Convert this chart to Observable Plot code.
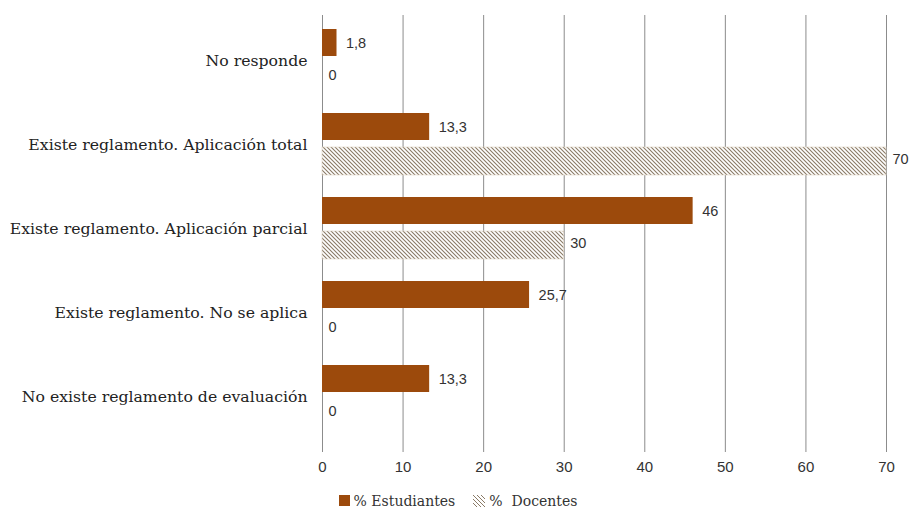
<!DOCTYPE html>
<html><head><meta charset="utf-8">
<script src="https://cdn.jsdelivr.net/npm/d3@7"></script>
<script src="https://cdn.jsdelivr.net/npm/@observablehq/plot@0.6"></script>
<style>
body{margin:0;background:#fff;}
#legend{width:910px;height:31px;display:flex;justify-content:center;align-items:center;font-family:"DejaVu Serif",serif;font-size:14px;color:#333;padding-left:6px;box-sizing:border-box;}
#legend .item{display:flex;align-items:center;margin:0 6px;font-family:"DejaVu Serif",serif;}
#legend svg{margin-right:4px;}
</style></head><body><div id="chart"></div><div id="legend"></div>
<script>
const categories = ["No responde","Existe reglamento. Aplicación total","Existe reglamento. Aplicación parcial","Existe reglamento. No se aplica","No existe reglamento de evaluación"];
const estudiantes = [1.8,13.3,46,25.7,13.3];
const docentes = [0,70,30,0,0];
const xTicks = [0,10,20,30,40,50,60,70];
const seriesNames = ["% Estudiantes","%  Docentes"];

const est = categories.map((c,i)=>({category:c, series:seriesNames[0], value:estudiantes[i]}));
const doc = categories.map((c,i)=>({category:c, series:seriesNames[1], value:docentes[i]}));
const fmt = v => String(v).replace(".", ",");
const brown = "#9c4a0c";
const serif = "'DejaVu Serif', serif";
const sans = "'Liberation Sans', sans-serif";

const chart = Plot.plot({
  width:910, height:485,
  marginLeft:322, marginRight:24, marginTop:15, marginBottom:33,
  style:{fontFamily:sans, fontSize:"15px", color:"#333", background:"#fff"},
  x:{domain:[0,70], ticks:xTicks, tickSize:0, tickPadding:9, label:null, tickFormat:d=>String(d)},
  y:{domain:categories, paddingInner:0.257, paddingOuter:0.206, align:0.37, label:null, axis:null},
  marks:[
    Plot.ruleX(xTicks,{stroke:"#8c8c8c", strokeWidth:1}),
    Plot.axisY({tickSize:0, tickPadding:15, fontFamily:serif, fontSize:15.7, fill:"#222", label:null}),
    Plot.barX(est,{x:"value", y:"category", fill:brown, insetBottom:35}),
    Plot.barX(doc,{x:"value", y:"category", fill:"url(#hatch)", stroke:"#e2d6c6", strokeWidth:0.6, insetTop:34}),
    Plot.text(est,{x:"value", y:"category", text:d=>fmt(d.value), dx:9, dy:-17, textAnchor:"start", fontSize:14.5, fill:"#333"}),
    Plot.text(doc,{x:"value", y:"category", text:d=>fmt(d.value), dx:6, dy:15, textAnchor:"start", fontSize:14.5, fill:"#333"})
  ]
});
const ns = "http://www.w3.org/2000/svg";
const defs = document.createElementNS(ns,"defs");
defs.innerHTML = '<pattern id="hatch" patternUnits="userSpaceOnUse" width="4" height="4"><rect width="4" height="4" fill="#fff"/><path d="M-1,-1 L5,5 M-1,3 L1,5 M3,-1 L5,1" stroke="#8a7a66" stroke-width="1.1"/></pattern>';
chart.insertBefore(defs, chart.firstChild);
document.getElementById("chart").appendChild(chart);

const legend = document.getElementById("legend");
legend.innerHTML =
  `<span class="item"><svg width="11" height="11"><rect width="11" height="11" fill="${brown}"/></svg>${seriesNames[0]}</span>` +
  `<span class="item" style="margin-left:12px"><svg width="12" height="12"><defs><pattern id="hatch2" patternUnits="userSpaceOnUse" width="4" height="4"><path d="M-1,3 L1,5 M3,-1 L5,1 M-1,-1 L5,5" stroke="#8a7a66" stroke-width="1"/></pattern></defs><rect width="12" height="12" fill="url(#hatch2)"/></svg><span style="white-space:pre">${seriesNames[1]}</span></span>`;
</script></body></html>
